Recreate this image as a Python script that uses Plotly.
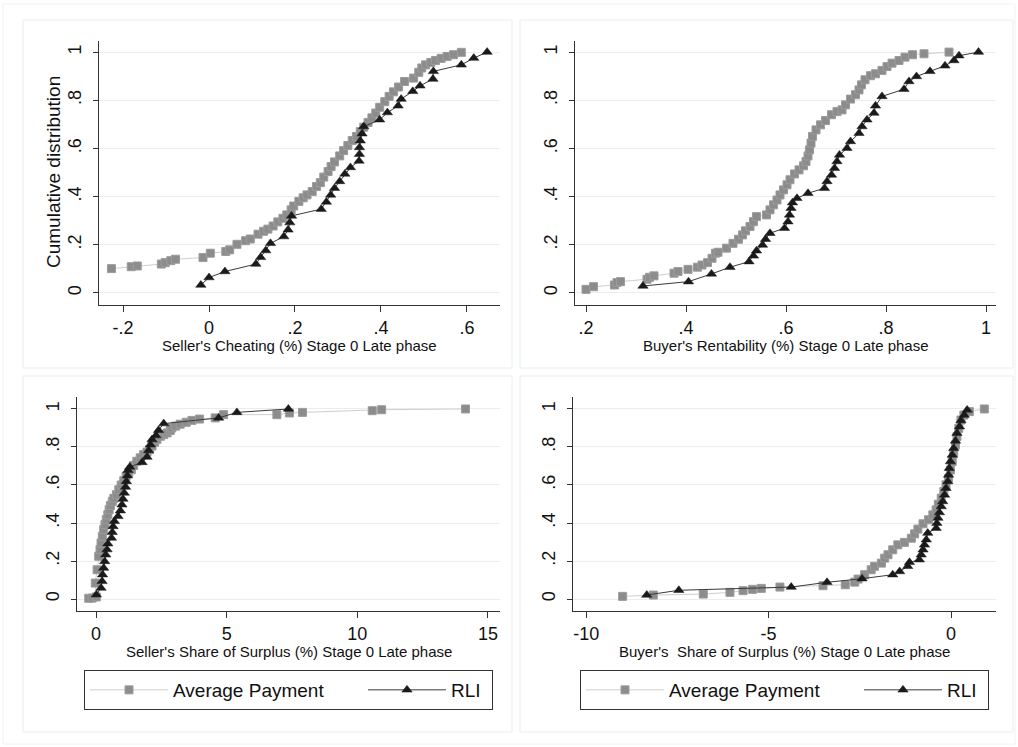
import plotly.graph_objects as go

# ---------------- DATA ----------------
# Panel 1: Seller's Cheating (%) Stage 0 Late phase
p1_avg_x = [-0.227, -0.181, -0.167, -0.111, -0.102, -0.089, -0.078, -0.014, 0.003, 0.039, 0.048, 0.065,
            0.085, 0.096, 0.114, 0.127, 0.137, 0.149, 0.160, 0.172, 0.181, 0.191, 0.197, 0.209, 0.219,
            0.228, 0.240, 0.250, 0.259, 0.267, 0.277, 0.284, 0.292, 0.304, 0.313, 0.323, 0.333, 0.343,
            0.352, 0.360, 0.370, 0.379, 0.388, 0.397, 0.409, 0.419, 0.429, 0.441, 0.455, 0.476, 0.488,
            0.495, 0.504, 0.516, 0.527, 0.540, 0.554, 0.569, 0.587]
p1_avg_y = [0.101, 0.109, 0.112, 0.120, 0.126, 0.134, 0.140, 0.147, 0.165, 0.172, 0.179, 0.202,
            0.217, 0.224, 0.244, 0.256, 0.265, 0.278, 0.295, 0.310, 0.324, 0.345, 0.361, 0.380, 0.395,
            0.407, 0.421, 0.442, 0.458, 0.481, 0.504, 0.525, 0.544, 0.569, 0.591, 0.612, 0.633, 0.650,
            0.670, 0.688, 0.708, 0.727, 0.747, 0.771, 0.794, 0.816, 0.835, 0.855, 0.878, 0.892, 0.916,
            0.934, 0.947, 0.957, 0.965, 0.974, 0.982, 0.989, 0.999]
p1_rli_x = [-0.019, 0.000, 0.037, 0.109, 0.120, 0.132, 0.143, 0.174, 0.184, 0.188, 0.192, 0.261,
            0.273, 0.283, 0.292, 0.304, 0.316, 0.329, 0.349, 0.350, 0.350, 0.352, 0.356, 0.360, 0.397,
            0.415, 0.440, 0.447, 0.474, 0.491, 0.521, 0.522, 0.587, 0.616, 0.647]
p1_rli_y = [0.033, 0.064, 0.089, 0.120, 0.148, 0.176, 0.206, 0.234, 0.262, 0.292, 0.320, 0.348,
            0.378, 0.407, 0.435, 0.463, 0.494, 0.521, 0.548, 0.576, 0.604, 0.632, 0.661, 0.691, 0.719,
            0.749, 0.777, 0.805, 0.837, 0.860, 0.888, 0.920, 0.947, 0.975, 1.000]

# Panel 2: Buyer's Rentability (%) Stage 0 Late phase
p2_avg_x = [0.200, 0.215, 0.257, 0.262, 0.269, 0.322, 0.327, 0.336, 0.376, 0.384, 0.404, 0.423,
            0.432, 0.443, 0.452, 0.459, 0.464, 0.481, 0.494, 0.505, 0.513, 0.519, 0.528, 0.535, 0.541,
            0.561, 0.568, 0.575, 0.582, 0.588, 0.595, 0.602, 0.608, 0.617, 0.626, 0.635, 0.640, 0.644,
            0.647, 0.650, 0.653, 0.660, 0.669, 0.679, 0.691, 0.702, 0.712, 0.719, 0.729, 0.739, 0.746,
            0.751, 0.758, 0.769, 0.779, 0.792, 0.802, 0.812, 0.826, 0.838, 0.853, 0.876, 0.926]
p2_avg_y = [0.015, 0.026, 0.033, 0.043, 0.047, 0.057, 0.065, 0.071, 0.082, 0.089, 0.098, 0.107,
            0.116, 0.126, 0.144, 0.165, 0.169, 0.186, 0.206, 0.223, 0.241, 0.258, 0.276, 0.296, 0.317,
            0.324, 0.345, 0.366, 0.386, 0.407, 0.428, 0.449, 0.470, 0.494, 0.511, 0.528, 0.546, 0.569,
            0.594, 0.622, 0.650, 0.677, 0.698, 0.716, 0.740, 0.753, 0.760, 0.781, 0.805, 0.823, 0.843,
            0.864, 0.885, 0.902, 0.910, 0.924, 0.940, 0.954, 0.965, 0.979, 0.989, 0.993, 1.000]
p2_rli_x = [0.314, 0.405, 0.451, 0.488, 0.526, 0.535, 0.541, 0.553, 0.559, 0.568, 0.597, 0.604,
            0.607, 0.610, 0.613, 0.622, 0.644, 0.677, 0.682, 0.691, 0.697, 0.702, 0.707, 0.722, 0.729,
            0.746, 0.752, 0.762, 0.776, 0.779, 0.792, 0.836, 0.846, 0.861, 0.888, 0.918, 0.936, 0.946,
            0.985]
p2_rli_y = [0.029, 0.047, 0.079, 0.107, 0.130, 0.154, 0.175, 0.199, 0.223, 0.248, 0.269, 0.296,
            0.324, 0.352, 0.375, 0.393, 0.414, 0.435, 0.463, 0.490, 0.518, 0.546, 0.573, 0.601, 0.629,
            0.663, 0.691, 0.719, 0.747, 0.777, 0.816, 0.846, 0.878, 0.899, 0.920, 0.943, 0.965, 0.985,
            1.000]

# Panel 3: Seller's Share of Surplus (%) Stage 0 Late phase
p3_avg_x = [-0.28, -0.15, 0.01, -0.03, 0.04, 0.10, 0.15, 0.19, 0.24, 0.29, 0.34, 0.39, 0.45, 0.50,
            0.55, 0.62, 0.68, 0.78, 0.87, 0.96, 1.06, 1.15, 1.25, 1.35, 1.44, 1.56, 1.69, 1.82, 1.95,
            2.05, 2.14, 2.24, 2.33, 2.46, 2.59, 2.72, 2.84, 2.90, 3.05, 3.22, 3.45, 3.67, 3.96, 4.56,
            4.88, 6.92, 7.40, 7.90, 10.57, 10.93, 14.14]
p3_avg_y = [0.004, 0.005, 0.011, 0.084, 0.154, 0.225, 0.260, 0.295, 0.330, 0.365, 0.392, 0.418,
            0.444, 0.470, 0.492, 0.514, 0.530, 0.549, 0.575, 0.600, 0.623, 0.646, 0.663, 0.680, 0.703,
            0.725, 0.743, 0.760, 0.773, 0.786, 0.805, 0.825, 0.840, 0.856, 0.865, 0.874, 0.887, 0.900,
            0.910, 0.920, 0.930, 0.940, 0.947, 0.953, 0.970, 0.970, 0.979, 0.982, 0.991, 0.996, 1.000]
p3_rli_x = [0.01, 0.19, 0.23, 0.25, 0.29, 0.33, 0.37, 0.42, 0.45, 0.59, 0.62, 0.65, 0.70, 0.84, 0.93,
            0.99, 1.03, 1.08, 1.13, 1.16, 1.20, 1.22, 1.29, 1.76, 1.95, 2.01, 2.08, 2.14, 2.29, 2.39,
            2.59, 4.69, 5.39, 7.36]
p3_rli_y = [0.023, 0.058, 0.093, 0.128, 0.163, 0.198, 0.233, 0.260, 0.291, 0.321, 0.351, 0.382,
            0.409, 0.435, 0.465, 0.496, 0.526, 0.558, 0.589, 0.619, 0.649, 0.677, 0.695, 0.719, 0.747,
            0.781, 0.812, 0.839, 0.860, 0.888, 0.923, 0.953, 0.982, 1.000]

# Panel 4: Buyer's Share of Surplus (%) Stage 0 Late phase
p4_avg_x = [-9.00, -8.16, -6.79, -6.06, -5.70, -5.44, -5.20, -4.69, -3.51, -2.90, -2.64, -2.55,
            -2.37, -2.19, -2.10, -1.91, -1.82, -1.73, -1.60, -1.46, -1.28, -1.09, -1.00, -0.91, -0.77,
            -0.62, -0.50, -0.41, -0.35, -0.27, -0.20, -0.14, -0.07, -0.02, 0.03, 0.07, 0.12, 0.16,
            0.21, 0.27, 0.35, 0.50, 0.91]
p4_avg_y = [0.014, 0.021, 0.026, 0.035, 0.044, 0.051, 0.056, 0.063, 0.070, 0.075, 0.089, 0.105,
            0.128, 0.154, 0.172, 0.189, 0.215, 0.233, 0.259, 0.285, 0.298, 0.320, 0.343, 0.368, 0.396,
            0.417, 0.443, 0.469, 0.499, 0.531, 0.566, 0.601, 0.636, 0.679, 0.723, 0.767, 0.811, 0.855,
            0.898, 0.942, 0.968, 0.986, 1.000]
p4_rli_x = [-8.34, -7.46, -4.38, -3.40, -2.44, -1.60, -1.41, -1.19, -1.14, -0.87, -0.82, -0.77,
            -0.73, -0.68, -0.64, -0.41, -0.39, -0.36, -0.32, -0.27, -0.23, -0.18, -0.14, -0.09, -0.07,
            -0.05, -0.02, 0.03, 0.07, 0.12, 0.16, 0.23, 0.27, 0.36, 0.44]
p4_rli_y = [0.021, 0.046, 0.063, 0.088, 0.107, 0.128, 0.145, 0.172, 0.193, 0.207, 0.233, 0.259,
            0.285, 0.312, 0.347, 0.373, 0.399, 0.426, 0.455, 0.487, 0.513, 0.548, 0.583, 0.618, 0.653,
            0.688, 0.723, 0.758, 0.793, 0.832, 0.872, 0.907, 0.939, 0.968, 0.995]

series_names = ["Average Payment", "RLI"]
x_titles = ["Seller's Cheating (%) Stage 0 Late phase",
            "Buyer's Rentability (%) Stage 0 Late phase",
            "Seller's Share of Surplus (%) Stage 0 Late phase",
            "Buyer's  Share of Surplus (%) Stage 0 Late phase"]
y_title = "Cumulative distribution"
y_ticks = [0, 0.2, 0.4, 0.6, 0.8, 1]
y_ticklabels = ["0", ".2", ".4", ".6", ".8", "1"]
x_ticks = [[-0.2, 0, 0.2, 0.4, 0.6], [0.2, 0.4, 0.6, 0.8, 1], [0, 5, 10, 15], [-10, -5, 0]]
x_ticklabels = [["-.2", "0", ".2", ".4", ".6"], [".2", ".4", ".6", ".8", "1"],
                ["0", "5", "10", "15"], ["-10", "-5", "0"]]

# ---------------- FIGURE ----------------
W, H = 1018, 747
FONT = "Arial, Liberation Sans, sans-serif"
fig = go.Figure()

panels = [
    (p1_avg_x, p1_avg_y, p1_rli_x, p1_rli_y),
    (p2_avg_x, p2_avg_y, p2_rli_x, p2_rli_y),
    (p3_avg_x, p3_avg_y, p3_rli_x, p3_rli_y),
    (p4_avg_x, p4_avg_y, p4_rli_x, p4_rli_y),
]
# pixel geometry of plotting areas: (left, right, top, bottom)
px_boxes = [(99, 500, 41, 305), (575, 996, 41, 305), (77, 500, 397, 611), (573, 996, 397, 611)]
x_ranges = [[-0.256, 0.677], [0.178, 1.02], [-0.73, 15.46], [-10.36, 1.23]]
y_ranges = [[-0.05, 1.046], [-0.05, 1.046], [-0.063, 1.063], [-0.063, 1.063]]
legend_for = [None, None, "legend", "legend2"]
legend_widths = [185, 36]
annotations = []

for i, (ax, ay, rx, ry) in enumerate(panels):
    n = "" if i == 0 else str(i + 1)
    leg = legend_for[i]
    fig.add_trace(go.Scatter(
        x=ax, y=ay, mode="lines+markers", name=series_names[0],
        xaxis="x" + n, yaxis="y" + n,
        line=dict(color="#cfcfcf", width=1),
        marker=dict(symbol="square", size=8, color="#8c8c8c", line=dict(color="#9c9c9c", width=1)),
        showlegend=leg is not None, legend=leg if leg else "legend",
        legendwidth=legend_widths[0]))
    fig.add_trace(go.Scatter(
        x=rx, y=ry, mode="lines+markers", name=series_names[1],
        xaxis="x" + n, yaxis="y" + n,
        line=dict(color="#3a3a3a", width=1),
        marker=dict(symbol="triangle-up", size=9, color="#1a1a1a", line=dict(color="#1a1a1a", width=0.5)),
        showlegend=leg is not None, legend=leg if leg else "legend",
        legendwidth=legend_widths[1]))

    l, r, t, b = px_boxes[i]
    xdom = [l / W, r / W]
    ydom = [1 - b / H, 1 - t / H]
    xa = dict(domain=xdom, range=x_ranges[i], anchor="y" + n,
              tickvals=x_ticks[i], ticktext=x_ticklabels[i],
              showgrid=False, zeroline=False, showline=True, linecolor="#333333", linewidth=1,
              ticks="outside", ticklen=6, tickcolor="#333333", ticklabelstandoff=0,
              tickfont=dict(family=FONT, size=18, color="#111111"))
    ya = dict(domain=ydom, range=y_ranges[i], anchor="x" + n,
              tickvals=y_ticks, ticktext=y_ticklabels, tickangle=-90,
              showgrid=True, gridcolor="#e6eef0", gridwidth=1, zeroline=False,
              showline=True, linecolor="#333333", linewidth=1,
              ticks="outside", ticklen=5, tickcolor="#333333", ticklabelstandoff=5,
              tickfont=dict(family=FONT, size=18, color="#111111"))
    fig.layout["xaxis" + n] = xa
    fig.layout["yaxis" + n] = ya
    # x-axis title placed as text just below the tick labels
    annotations.append(dict(text=x_titles[i], xref="paper", yref="paper",
                            x=(l + r) / 2 / W, y=1 - (b + 40) / H, xanchor="center", yanchor="middle",
                            showarrow=False, font=dict(family=FONT, size=15, color="#111111")))

# y-axis title of the first panel
annotations.append(dict(text=y_title, xref="paper", yref="paper", textangle=-90,
                        x=54 / W, y=1 - 172 / H, xanchor="center", yanchor="middle",
                        showarrow=False, font=dict(family=FONT, size=19, color="#111111")))

# light panel frames (Stata graph regions)
frames = [(23, 512, 20, 368), (520, 1013, 20, 368), (23, 512, 376, 732), (520, 1013, 376, 732)]
shapes = [dict(type="rect", xref="paper", yref="paper", x0=3 / W, x1=1015 / W, y0=1 - 744 / H, y1=1 - 4 / H,
               line=dict(color="#eef2f4", width=1), fillcolor="rgba(0,0,0,0)", layer="below")]
for (l, r, t, b) in frames:
    shapes.append(dict(type="rect", xref="paper", yref="paper", x0=l / W, x1=r / W,
                       y0=1 - b / H, y1=1 - t / H,
                       line=dict(color="#e8eef1", width=1), fillcolor="rgba(0,0,0,0)", layer="below"))

legend_style = dict(orientation="h", bgcolor="white", bordercolor="#333333", borderwidth=1,
                    font=dict(family=FONT, size=19, color="#111111"),
                    xanchor="left", yanchor="top", itemwidth=78,
                    tracegroupgap=0)
fig.update_layout(
    width=W, height=H, autosize=False,
    margin=dict(l=0, r=0, t=0, b=0),
    paper_bgcolor="white", plot_bgcolor="white",
    shapes=shapes, annotations=annotations,
    legend=dict(legend_style, x=84 / W, y=1 - 670 / H),
    legend2=dict(legend_style, x=580 / W, y=1 - 670 / H),
)

fig.write_html("out.html", config={"displayModeBar": False},
               post_script="document.body.style.margin='0px';document.body.style.overflow='hidden';")
